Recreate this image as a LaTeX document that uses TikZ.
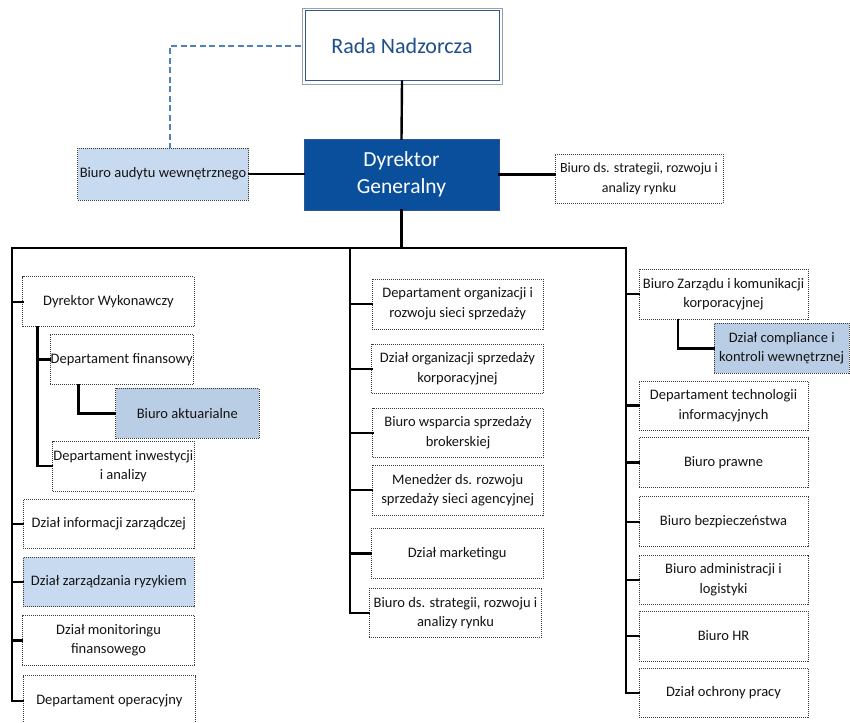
\documentclass[tikz,border=0pt]{standalone}
\usepackage{fontspec}
\setmainfont{Carlito}
\definecolor{dblue}{RGB}{10,79,156}
\definecolor{radablue}{RGB}{31,78,140}
\definecolor{radaline}{RGB}{47,85,151}
\definecolor{radagray}{RGB}{150,160,175}
\definecolor{lblueA}{RGB}{200,218,240}
\definecolor{lblueB}{RGB}{185,205,229}
\definecolor{dashblue}{RGB}{79,129,189}
\definecolor{dotgray}{RGB}{60,60,60}
\tikzset{
  line/.style={line width=2.4pt, black, line cap=rect, line join=miter},
  dbox/.style={draw=dotgray, line width=0.8pt, dash pattern=on 1pt off 1pt, fill=white,
    inner sep=0pt, align=center, font=\fontsize{14.5}{19.5}\selectfont, text=black!92},
  boxA/.style={dbox, fill=lblueA},
  boxB/.style={dbox, fill=lblueB},
}
\begin{document}
\begin{tikzpicture}[x=1pt,y=-1pt]
\useasboundingbox (0,0) rectangle (850,722);
\fill[white] (0,0) rectangle (850,722);
% top
\node[draw=radaline, line width=1pt, minimum width=194pt, minimum height=70pt, inner sep=0pt,
  text=radablue, font=\fontsize{22}{25}\selectfont] (rada) at (402,46) {Rada Nadzorcza};
\draw[radagray, line width=0.8pt] ([shift={(-2.5pt,2.5pt)}]rada.north west) rectangle ([shift={(2.5pt,-2.5pt)}]rada.south east);
\node[fill=dblue, draw=radaline, line width=0.6pt, minimum width=195pt, minimum height=71pt, inner sep=0pt,
  text=white, align=center, font=\fontsize{21.5}{27}\selectfont] (dg) at (401.5,174.5) {Dyrektor\\Generalny};
\node[boxA, minimum width=171pt, minimum height=52pt] (aud) at (163,174) {Biuro audytu wewnętrznego};
\node[dbox, minimum width=168pt, minimum height=49pt, font=\fontsize{14}{20}\selectfont] (str) at (639,178.5) {Biuro ds. strategii, rozwoju i\\analizy rynku};
\draw[dashblue, line width=1.3pt, dash pattern=on 6pt off 3.5pt] ([xshift=-4pt]rada.west) -| ([xshift=7pt]aud.north);
\draw[line] (rada.south) -- (dg.north);
\draw[line] (aud.east) -- (aud.east -| dg.west);
\draw[line] (dg.east) -- (dg.east -| str.west);
\coordinate (bus) at (401.5,248);
\coordinate (lx) at (12,248);
\coordinate (mx) at (350,248);
\coordinate (rx) at (626,248);
\draw[line] (dg.south) -- (bus);
% left column
\node[dbox, minimum width=171.3pt, minimum height=50pt] (dw) at (108.4,301.7) {Dyrektor Wykonawczy};
\node[dbox, minimum width=143.3pt, minimum height=50.7pt] (dfin) at (121.7,359.3) {Departament finansowy};
\node[boxB, minimum width=143.3pt, minimum height=50pt] (akt) at (187.3,413.3) {Biuro aktuarialne};
\node[dbox, minimum width=141.3pt, minimum height=50pt] (dinw) at (123.3,466) {Departament inwestycji\\i analizy};
\node[dbox, minimum width=171pt, minimum height=49.3pt] (dinf) at (108.8,523.7) {Dział informacji zarządczej};
\node[boxA, minimum width=171pt, minimum height=49.3pt] (dzr) at (108.8,582) {Dział zarządzania ryzykiem};
\node[dbox, minimum width=172.4pt, minimum height=49.3pt] (dmf) at (108.5,640.3) {Dział monitoringu\\finansowego};
\node[dbox, minimum width=172pt, minimum height=50.6pt] (dop) at (109.3,701) {Departament operacyjny};
\draw[line] (lx |- dop.west) -- (lx) -- (rx);
\foreach \n in {dw,dinf,dzr,dmf,dop} \draw[line] (lx |- \n.west) -- (\n.west);
\coordinate (dwv) at ([xshift=15pt]dw.south west);
\draw[line] (dwv) |- (dinw.west);
\draw[line] (dwv |- dfin.west) -- (dfin.west);
\coordinate (dfv) at ([xshift=29pt]dfin.south west);
\draw[line] (dfv) |- (akt.west);
% middle column
\node[dbox, minimum width=171pt, minimum height=50pt] (m1) at (457.7,304) {Departament organizacji i\\rozwoju sieci sprzedaży};
\node[dbox, minimum width=171.6pt, minimum height=49pt] (m2) at (457.5,368.8) {Dział organizacji sprzedaży\\korporacyjnej};
\node[dbox, minimum width=170.6pt, minimum height=49pt] (m3) at (458,432.8) {Biuro wsparcia sprzedaży\\brokerskiej};
\node[dbox, minimum width=171pt, minimum height=50pt] (m4) at (457.7,490) {Menedżer ds. rozwoju\\sprzedaży sieci agencyjnej};
\node[dbox, minimum width=172.3pt, minimum height=50pt] (m5) at (457.2,553.3) {Dział marketingu};
\node[dbox, minimum width=172.4pt, minimum height=49.4pt] (m6) at (455.5,613) {Biuro ds. strategii, rozwoju i\\analizy rynku};
\draw[line] (mx) -- (mx |- m6.west);
\foreach \n in {m1,m2,m3,m4,m5,m6} \draw[line] (mx |- \n.west) -- (\n.west);
% right column
\node[dbox, minimum width=169pt, minimum height=50.3pt] (r1) at (723.5,294.2) {Biuro Zarządu i komunikacji\\korporacyjnej};
\node[boxB, minimum width=134.7pt, minimum height=50pt] (rc) at (781.7,348.3) {Dział compliance i\\kontroli wewnętrznej};
\node[dbox, minimum width=169pt, minimum height=49pt] (r2) at (723.5,405.5) {Departament technologii\\informacyjnych};
\node[dbox, minimum width=169pt, minimum height=49.6pt] (r3) at (723.5,462.5) {Biuro prawne};
\node[dbox, minimum width=169pt, minimum height=50pt] (r4) at (723.5,521.7) {Biuro bezpieczeństwa};
\node[dbox, minimum width=169pt, minimum height=49.3pt] (r5) at (723.5,579.7) {Biuro administracji i\\logistyki};
\node[dbox, minimum width=169pt, minimum height=50pt] (r6) at (723.5,636) {Biuro HR};
\node[dbox, minimum width=169pt, minimum height=49pt] (r7) at (723.5,692.8) {Dział ochrony pracy};
\draw[line] (rx) -- (rx |- r7.west);
\foreach \n in {r1,r2,r3,r4,r5,r6,r7} \draw[line] (rx |- \n.west) -- (\n.west);
\coordinate (r1v) at ([xshift=39.3pt]r1.south west);
\draw[line] (r1v) |- (rc.west);
\end{tikzpicture}
\end{document}
